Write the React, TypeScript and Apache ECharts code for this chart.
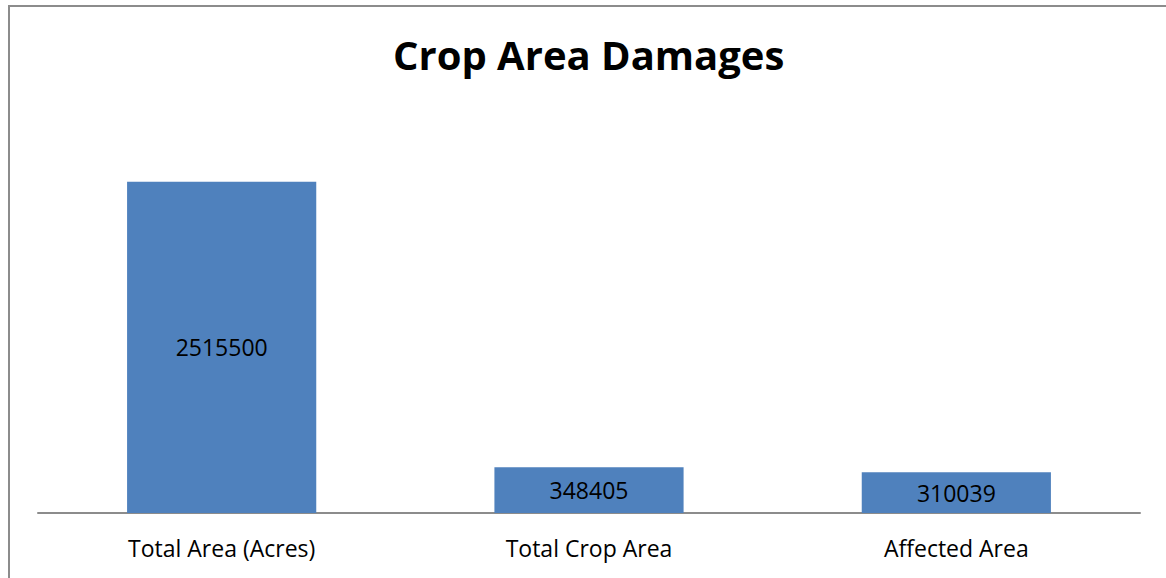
import React, { useEffect, useRef } from "react";
import * as echarts from "echarts";

const categories = ["Total Area (Acres)", "Total Crop Area", "Affected Area"];
const values = [2515500, 348405, 310039];
const chartTitle = "Crop Area Damages";

export default function App() {
  const ref = useRef<HTMLDivElement>(null);
  useEffect(() => {
    const chart = echarts.init(ref.current!, undefined, { renderer: "svg" });
    chart.setOption({
      animation: false,
      backgroundColor: "#ffffff",
      title: {
        text: chartTitle,
        left: 388,
        top: 29,
        textStyle: { fontFamily: "Open Sans", fontWeight: "bold", fontSize: 40, color: "#000" },
      },
      grid: { left: 38, right: 26, top: 118, bottom: 65 },
      xAxis: {
        type: "category",
        data: categories,
        axisLine: { lineStyle: { color: "#8c8c8c", width: 2 } },
        axisTick: { show: false },
        axisLabel: { fontFamily: "Open Sans", fontSize: 23, color: "#000", margin: 23 },
      },
      yAxis: {
        type: "value",
        min: 0,
        max: 3000000,
        show: false,
        splitLine: { show: false },
      },
      graphic: [
        {
          type: "rect",
          shape: { x: 9, y: 6, width: 1300, height: 700 },
          style: { fill: "none", stroke: "#8c8c8c", lineWidth: 2 },
          silent: true,
        },
      ],
      series: [
        {
          type: "bar",
          data: values,
          barWidth: "51.5%",
          itemStyle: { color: "#4f81bd" },
          label: {
            show: true,
            position: "inside",
            fontFamily: "Open Sans",
            fontSize: 23,
            color: "#000",
          },
        },
      ],
    });
    return () => chart.dispose();
  }, []);
  return (
    <div
      ref={ref}
      style={{ position: "absolute", left: 0, top: 0, width: 1166, height: 578 }}
    />
  );
}
